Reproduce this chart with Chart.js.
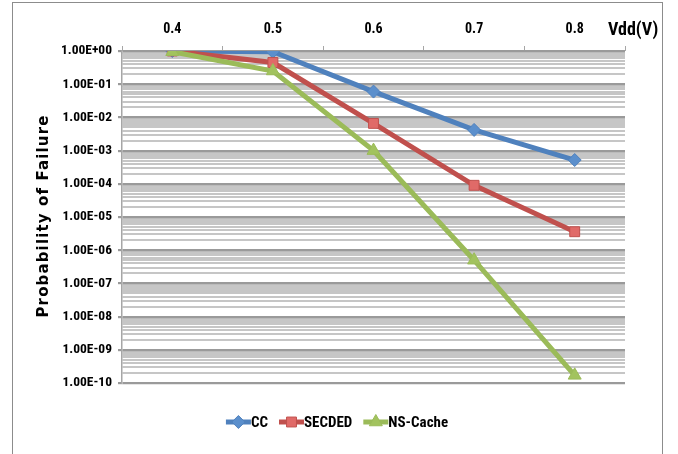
<!DOCTYPE html>
<html>
<head>
<meta charset="utf-8">
<script src="https://cdn.jsdelivr.net/npm/chart.js@4/dist/chart.umd.min.js"></script>
<style>
html,body{margin:0;padding:0;background:#fff;}
#wrap{position:relative;width:678px;height:454px;}
</style>
</head>
<body>
<div id="wrap"><canvas id="c" width="678" height="454"></canvas></div>
<script>
const categories = ['0.4', '0.5', '0.6', '0.7', '0.8'];
const ccValues = [1.0, 0.95, 6.0e-2, 4.2e-3, 5.2e-4];
const secdedValues = [1.0, 0.45, 6.6e-3, 9.0e-5, 3.6e-6];
const nsCacheValues = [0.95, 0.25, 1.0e-3, 5.0e-7, 1.7e-10];
const seriesNames = ['CC', 'SECDED', 'NS-Cache'];
const yMin = 1e-10;
const yMax = 1;
const xAxisTitle = 'Vdd(V)';
const yAxisTitle = 'Probability of Failure';

const NARROW = '"Roboto Condensed", Roboto, sans-serif';
const colors = ['#4F81BD', '#C0504D', '#9BBB59'];
const fills = ['#5B8FCC', '#E06A68', '#A2C35E'];
const styles = ['rectRot', 'rect', 'triangle'];
const radii = [6.5, 7, 7.5];

function isMajor(v) {
  const l = Math.log10(v);
  return Math.abs(l - Math.round(l)) < 1e-9;
}

const extras = {
  id: 'extras',
  afterDraw(chart) {
    const ctx = chart.ctx;
    ctx.save();
    // outer frame
    ctx.strokeStyle = '#8c8c8c';
    ctx.lineWidth = 1;
    ctx.strokeRect(12.5, 2.5, 650, 480);
    // x axis title
    ctx.fillStyle = '#000';
    ctx.font = 'bold 18px ' + NARROW;
    ctx.textAlign = 'left';
    ctx.textBaseline = 'middle';
    ctx.fillText(xAxisTitle, 608, 30);
    // y axis title (rotated, letter-spaced)
    ctx.save();
    ctx.font = 'bold 15px "DejaVu Sans", sans-serif';
    const tw = ctx.measureText(yAxisTitle).width;
    const ls = Math.max(0, (202 - tw) / (yAxisTitle.length - 1));
    ctx.letterSpacing = ls.toFixed(2) + 'px';
    ctx.translate(44, 216);
    ctx.rotate(-Math.PI / 2);
    ctx.textAlign = 'center';
    ctx.textBaseline = 'middle';
    ctx.fillText(yAxisTitle, 0, 0);
    ctx.restore();
    // legend
    ctx.font = 'bold 15px ' + NARROW;
    const lineLen = 25, gap = 11;
    const ds = chart.data.datasets;
    const widths = ds.map(d => lineLen + ctx.measureText(d.label).width);
    const total = widths.reduce((a, b) => a + b, 0) + gap * (ds.length - 1);
    let x = 337 - total / 2;
    const y = 422;
    ds.forEach((d, i) => {
      ctx.strokeStyle = d.borderColor;
      ctx.lineWidth = 5;
      ctx.beginPath();
      ctx.moveTo(x, y);
      ctx.lineTo(x + lineLen, y);
      ctx.stroke();
      ctx.fillStyle = d.pointBackgroundColor;
      ctx.strokeStyle = d.borderColor;
      ctx.lineWidth = 1;
      Chart.helpers.drawPoint(ctx, {pointStyle: d.pointStyle, rotation: 0, radius: d.pointRadius, borderWidth: 1}, x + lineLen / 2, y);
      ctx.fillStyle = '#000';
      ctx.textAlign = 'left';
      ctx.textBaseline = 'middle';
      ctx.fillText(d.label, x + lineLen, y + 1);
      x += widths[i] + gap;
    });
    ctx.restore();
  }
};

const seriesValues = [ccValues, secdedValues, nsCacheValues];

new Chart(document.getElementById('c'), {
  type: 'line',
  data: {
    labels: categories,
    datasets: seriesValues.map((vals, i) => ({
      label: seriesNames[i],
      data: vals,
      borderColor: colors[i],
      borderWidth: 5,
      pointStyle: styles[i],
      pointRadius: radii[i],
      pointBackgroundColor: fills[i],
      pointBorderColor: colors[i],
      pointBorderWidth: 1,
      tension: 0,
      fill: false,
      order: 2 - i
    }))
  },
  options: {
    responsive: false,
    devicePixelRatio: 1,
    animation: false,
    layout: {padding: {top: 0, left: 0, right: 53, bottom: 71}},
    plugins: {legend: {display: false}, tooltip: {enabled: false}},
    scales: {
      x: {
        type: 'category',
        position: 'top',
        offset: true,
        afterFit(s) { s.height = 51; },
        grid: {drawOnChartArea: false, offset: true, tickLength: 5, color: '#a6a6a6', lineWidth: 1},
        border: {display: false},
        ticks: {color: '#000', font: {family: NARROW, size: 14, weight: 'bold'}, padding: 8, maxRotation: 0}
      },
      y: {
        type: 'logarithmic',
        min: yMin,
        max: yMax,
        afterFit(s) { s.width = 122; },
        afterBuildTicks(s) {
          const t = [];
          for (let e = Math.log10(yMin); e <= Math.log10(yMax); e++) {
            for (let m = 1; m <= 9; m++) {
              const v = m * Math.pow(10, e);
              if (v > yMax * 1.0000001) break;
              t.push({value: v, major: m === 1});
            }
          }
          s.ticks = t;
        },
        grid: {
          color: c => (c.tick && isMajor(c.tick.value)) ? '#9a9a9a' : '#c6c6c6',
          lineWidth: c => (c.tick && isMajor(c.tick.value)) ? 2.2 : 2,
          tickColor: c => (c.tick && isMajor(c.tick.value)) ? '#9a9a9a' : 'rgba(0,0,0,0)',
          tickLength: 4
        },
        border: {color: '#a6a6a6', width: 1.5},
        title: {display: false},
        ticks: {
          autoSkip: false,
          color: '#000',
          padding: 6,
          font: {family: NARROW, size: 13.5, weight: 'bold'},
          callback(v) {
            if (!isMajor(v)) return '';
            const e = Math.round(Math.log10(v));
            const sign = e < 0 ? '-' : '+';
            const a = Math.abs(e);
            return '1.00E' + sign + (a < 10 ? '0' + a : '' + a);
          }
        }
      }
    }
  },
  plugins: [extras]
});
</script>
</body>
</html>
